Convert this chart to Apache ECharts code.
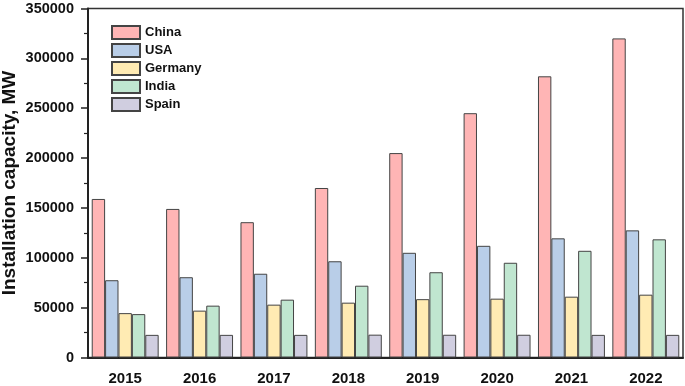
<!DOCTYPE html>
<html>
<head>
<meta charset="utf-8">
<script src="https://cdn.jsdelivr.net/npm/echarts@6/dist/echarts.min.js"></script>
<style>html,body{margin:0;padding:0;background:#fff}#c{width:685px;height:386px}</style>
</head>
<body>
<div id="c"></div>
<script>
const years = ['2015','2016','2017','2018','2019','2020','2021','2022'];
const china = [159000,149000,135700,170000,205000,245000,282000,320000];
const usa = [77500,80500,84000,96500,105000,112000,119500,127500];
const germany = [44500,47000,53000,55000,58500,59000,61000,63000];
const india = [43500,52000,58000,72000,85500,95000,107000,118500];
const spain = [22700,22700,22700,22900,22800,22800,22700,22700];
const seriesNames = ['China','USA','Germany','India','Spain'];
const colors = ['#FFB5B5','#B9CEE8','#FFEBB3','#C0E6D0','#D0CEE0'];
const allData = [china, usa, germany, india, spain];

const chart = echarts.init(document.getElementById('c'));
const font = 'Arial, "Liberation Sans", sans-serif';
chart.setOption({
  animation: false,
  backgroundColor: '#fff',
  grid: {left: 88, right: 2, top: 8.5, bottom: 28.5, containLabel: false, outerBoundsMode: 'none',
         show: true, borderColor: '#333', borderWidth: 1.5},
  legend: {
    orient: 'vertical', left: 111, top: 25, itemWidth: 28, itemHeight: 13, itemGap: 3,
    icon: 'rect', padding: 0,
    textStyle: {fontFamily: font, fontWeight: 'bold', fontSize: 13, color: '#111'},
    data: seriesNames
  },
  xAxis: {
    type: 'category', data: years,
    axisLine: {lineStyle: {color: '#222', width: 2}},
    axisTick: {alignWithLabel: true, length: 6, lineStyle: {color: '#222', width: 1.5}},
    axisLabel: {fontFamily: font, fontWeight: 'bold', fontSize: 15, color: '#111', margin: 14}
  },
  yAxis: {
    type: 'value', min: 0, max: 350000, interval: 50000,
    name: 'Installation capacity, MW', nameLocation: 'middle', nameGap: 69, nameMoveOverlap: false,
    nameTextStyle: {fontFamily: font, fontWeight: 'bold', fontSize: 19, color: '#111'},
    axisLine: {show: true, lineStyle: {color: '#222', width: 2}},
    axisTick: {show: true, length: 7, lineStyle: {color: '#222', width: 1.5}},
    minorTick: {show: true, splitNumber: 2, length: 4, lineStyle: {color: '#222', width: 1.2}},
    splitLine: {show: false},
    axisLabel: {fontFamily: font, fontWeight: 'bold', fontSize: 14.5, color: '#111', margin: 14,
                formatter: v => String(v)}
  },
  series: seriesNames.map((n, i) => ({
    name: n, type: 'bar', data: allData[i],
    barGap: '0%', barCategoryGap: '10%',
    itemStyle: {color: colors[i], borderColor: '#444', borderWidth: 1}
  }))
});
</script>
</body>
</html>
